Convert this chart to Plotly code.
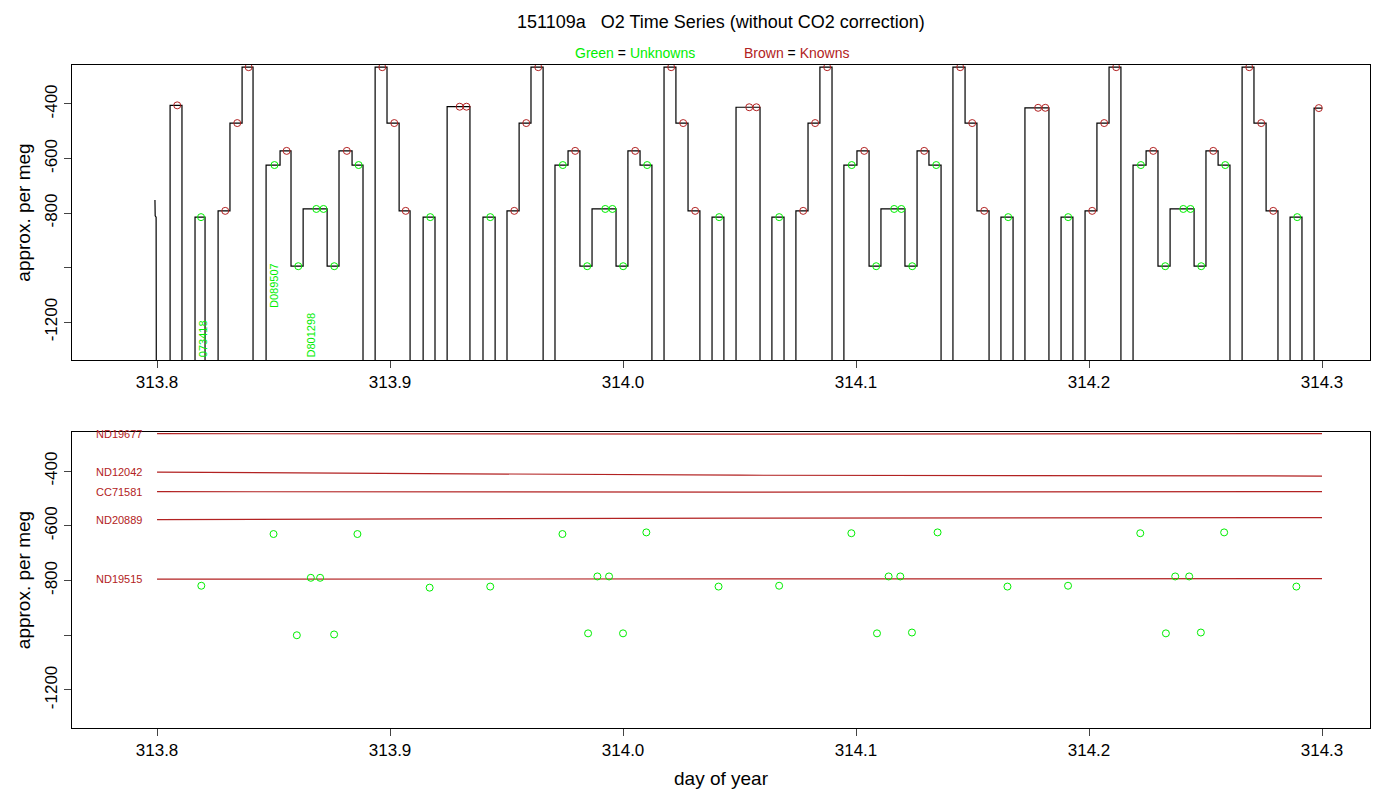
import plotly.graph_objects as go

seg_start = [313.8056,313.8163,313.8262,313.8313,313.8365,313.8468,313.8528,313.8575,313.8627,313.8730,313.8781,313.8837,
             313.8936,313.8987,313.9039,313.9142,313.9245,313.9399,313.9502,313.9554,313.9605,
             313.9708,313.9764,313.9815,313.9867,313.9970,314.0021,314.0073,
             314.0176,314.0227,314.0279,314.0382,314.0485,314.0639,314.0742,314.0794,314.0845,
             314.0948,314.1004,314.1056,314.1107,314.1210,314.1262,314.1313,
             314.1416,314.1468,314.1519,314.1622,314.1725,314.1880,314.1983,314.2034,314.2086,
             314.2189,314.2245,314.2296,314.2348,314.2451,314.2502,314.2554,
             314.2657,314.2708,314.2760,314.2863,314.2966]
seg_end = [313.8107,313.8206,313.8313,313.8365,313.8412,313.8528,313.8575,313.8627,313.8730,313.8781,313.8837,313.8884,
           313.8987,313.9039,313.9086,313.9193,313.9343,313.9451,313.9554,313.9605,313.9657,
           313.9764,313.9815,313.9867,313.9970,314.0021,314.0073,314.0124,
           314.0227,314.0279,314.0330,314.0433,314.0588,314.0691,314.0794,314.0845,314.0897,
           314.1004,314.1056,314.1107,314.1210,314.1262,314.1313,314.1365,
           314.1468,314.1519,314.1571,314.1674,314.1828,314.1931,314.2034,314.2086,314.2137,
           314.2245,314.2296,314.2348,314.2451,314.2502,314.2554,314.2605,
           314.2708,314.2760,314.2811,314.2914,314.3000]
seg_level = [-405,-815,-792,-470,-265,-624,-572,-995,-785,-995,-572,-624,
             -265,-470,-792,-815,-410,-815,-792,-470,-265,
             -624,-572,-995,-785,-995,-572,-624,
             -265,-470,-792,-815,-412,-815,-792,-470,-265,
             -624,-572,-995,-785,-995,-572,-624,
             -265,-470,-792,-815,-414,-815,-792,-470,-265,
             -624,-572,-995,-785,-995,-572,-624,
             -265,-470,-792,-815,-415]
unknown_levels = [-624, -785, -995, -815]

init_t = [313.7991, 313.7992, 313.7996, 313.7997]
init_v = [-752, -810, -815, -1500]

unk_t = [313.819,313.850,313.860,313.866,313.870,313.876,313.886,313.917,313.943,313.974,313.985,313.989,313.994,
         314.000,314.010,314.041,314.067,314.098,314.109,314.114,314.119,314.124,314.135,314.165,314.191,
         314.222,314.233,314.237,314.243,314.248,314.258,314.289]
unk_v = [-819,-630,-1000,-790,-790,-997,-630,-826,-822,-630,-993,-785,-785,-993,-624,-822,-819,-627,-993,
         -785,-785,-990,-624,-822,-819,-627,-993,-785,-785,-990,-624,-822]

ref_names = ["ND19677", "ND12042", "CC71581", "ND20889", "ND19515"]
ref_v0 = [-263, -404, -475, -577, -795]
ref_vmid = [-265, -415, -477, -572, -794]
ref_v1 = [-263, -418, -475, -570, -793]
ref_t = [313.8, 314.05, 314.3]

label_names = ["073418", "D089507", "D801298"]
label_t = [313.8195, 313.8505, 313.8660]
label_v = [-1336, -1155, -1336]

BROWN = "#b22222"
GREEN = "#00ee00"
FONT = "Liberation Sans"
fig = go.Figure()

xs, ys = list(init_t), list(init_v)
prev_end = None
for s, e, v in zip(seg_start, seg_end, seg_level):
    if prev_end is None or abs(s - prev_end) > 1e-6:
        if prev_end is not None:
            xs += [prev_end, None]; ys += [-1500, None]
        xs.append(s); ys.append(-1500)
    xs += [s, e]; ys += [v, v]
    prev_end = e
fig.add_trace(go.Scatter(x=xs, y=ys, mode="lines", line=dict(color="black", width=1.2),
                         xaxis="x", yaxis="y", showlegend=False))

mx, my, mc = [], [], []
for s, e, v in zip(seg_start, seg_end, seg_level):
    col = GREEN if v in unknown_levels else BROWN
    fr = [0.55, 0.85] if (e - s) > 0.008 else [0.6]
    for f in fr:
        mx.append(s + (e - s) * f); my.append(v); mc.append(col)
fig.add_trace(go.Scatter(x=mx, y=my, mode="markers", xaxis="x", yaxis="y", showlegend=False,
                         marker=dict(symbol="circle-open", size=7, color=mc, line=dict(width=1))))

for n, t, v in zip(label_names, label_t, label_v):
    fig.add_annotation(x=t, y=v, xref="x", yref="y", text=n, textangle=-90, showarrow=False,
                       xanchor="center", yanchor="bottom", font=dict(color=GREEN, size=11, family=FONT))

for n, a, m, b in zip(ref_names, ref_v0, ref_vmid, ref_v1):
    fig.add_trace(go.Scatter(x=ref_t, y=[a, m, b], mode="lines", line=dict(color=BROWN, width=1.2, shape="spline"),
                             xaxis="x2", yaxis="y2", showlegend=False))
    fig.add_annotation(x=313.7729, y=a, xref="x2", yref="y2", text=n, showarrow=False, xanchor="left",
                       font=dict(color=BROWN, size=11, family=FONT))

fig.add_trace(go.Scatter(x=unk_t, y=unk_v, mode="markers", xaxis="x2", yaxis="y2", showlegend=False,
                         marker=dict(symbol="circle-open", size=7, color=GREEN, line=dict(width=1))))

ax = dict(range=[313.7635, 314.3206], tickvals=[313.8, 313.9, 314.0, 314.1, 314.2, 314.3],
          ticktext=["313.8", "313.9", "314.0", "314.1", "314.2", "314.3"], ticks="outside", ticklen=7,
          showline=True, mirror=True, linecolor="black", showgrid=False, zeroline=False, automargin=False,
          tickfont=dict(size=17, family=FONT, color="black"))
ay = dict(range=[-1339, -257], tickvals=[-400, -600, -800, -1000, -1200],
          ticktext=["-400", "-600", "-800", "", "-1200"], tickangle=-90, ticks="outside", ticklen=7,
          showline=True, mirror=True, linecolor="black", showgrid=False, zeroline=False, automargin=False,
          tickfont=dict(size=17, family=FONT, color="black"),
          title=dict(text="approx. per meg", font=dict(size=19, family=FONT, color="black"), standoff=6))

fig.update_layout(
    width=1400, height=800, margin=dict(l=64, r=38, t=0, b=0, autoexpand=False),
    plot_bgcolor="white", paper_bgcolor="white",
    xaxis=dict(ax, domain=[0, 1], anchor="y"),
    yaxis=dict(ay, domain=[0.56, 0.92875], anchor="x"),
    xaxis2=dict(ax, domain=[0, 1], anchor="y2",
                title=dict(text="day of year", font=dict(size=19, family=FONT, color="black"), standoff=12)),
    yaxis2=dict(ay, domain=[0.10, 0.47], anchor="x2"),
)
fig.add_annotation(x=0.5, y=0.9825, xref="paper", yref="paper", showarrow=False, yanchor="middle",
                   text="151109a   O2 Time Series (without CO2 correction)",
                   font=dict(size=18, family=FONT, color="black"))
fig.add_annotation(x=0.434, y=0.94375, xref="paper", yref="paper", showarrow=False, yanchor="middle",
                   text=f"<span style='color:{GREEN}'>Green</span> = <span style='color:{GREEN}'>Unknowns</span>",
                   font=dict(size=14, family=FONT, color="black"))
fig.add_annotation(x=0.558, y=0.94375, xref="paper", yref="paper", showarrow=False, yanchor="middle",
                   text=f"<span style='color:{BROWN}'>Brown</span> = <span style='color:{BROWN}'>Knowns</span>",
                   font=dict(size=14, family=FONT, color="black"))

fig.write_html("out.html")
